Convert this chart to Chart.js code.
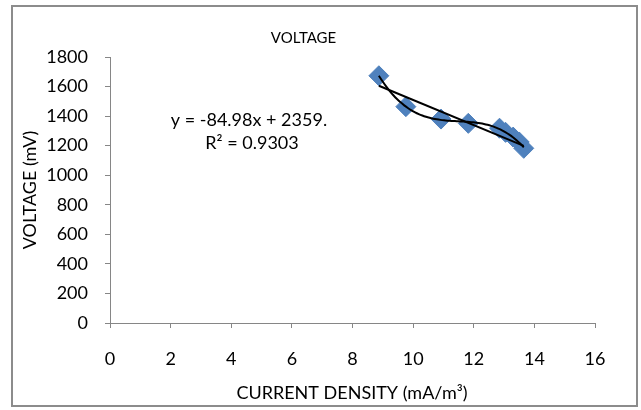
<!DOCTYPE html>
<html>
<head>
<meta charset="utf-8">
<script src="https://cdn.jsdelivr.net/npm/chart.js@4.4.1/dist/chart.umd.min.js"></script>
<style>
    body { margin: 0; background: #fff; }
    #wrap { width: 641px; height: 410px; position: relative; }
</style>
</head>
<body>
<div id="wrap"><canvas id="voltageChart"></canvas></div>
<script>
// readings taken off the plot
const currentDensity = [8.87, 9.76, 10.92, 11.82, 12.85, 13.05, 13.3, 13.5, 13.65];
const voltage = [1673, 1464, 1380, 1351, 1318, 1290, 1258, 1225, 1182];

// trendline as printed on the chart
const trendSlope = -84.98;
const trendIntercept = 2359;
const trendLabel = 'y = -84.98x + 2359.';
const r2Label = 'R\u00b2 = 0.9303';

const xTicks = [0, 2, 4, 6, 8, 10, 12, 14, 16];
const yTicks = [0, 200, 400, 600, 800, 1000, 1200, 1400, 1600, 1800];

// cubic least-squares fit of the measured points (second trendline)
function polyFit(xs, ys, order) {
    const n = order + 1;
    const A = [];
    for (let i = 0; i < n; i++) {
        A.push(new Array(n + 1).fill(0));
        for (let j = 0; j < n; j++) {
            A[i][j] = xs.reduce((s, x) => s + Math.pow(x, i + j), 0);
        }
        A[i][n] = xs.reduce((s, x, k) => s + Math.pow(x, i) * ys[k], 0);
    }
    for (let c = 0; c < n; c++) {
        let p = c;
        for (let r = c + 1; r < n; r++) if (Math.abs(A[r][c]) > Math.abs(A[p][c])) p = r;
        [A[c], A[p]] = [A[p], A[c]];
        for (let r = 0; r < n; r++) {
            if (r === c) continue;
            const f = A[r][c] / A[c][c];
            for (let k = c; k <= n; k++) A[r][k] -= f * A[c][k];
        }
    }
    return A.map((row, i) => row[n] / row[i]);
}

const xMin = Math.min(...currentDensity);
const xMax = Math.max(...currentDensity);
const coef = polyFit(currentDensity, voltage, 3);
const polyLine = [];
for (let i = 0; i <= 40; i++) {
    const x = xMin + (xMax - xMin) * i / 40;
    polyLine.push({ x: x, y: coef.reduce((s, c, k) => s + c * Math.pow(x, k), 0) });
}
const linLine = [xMin, xMax].map(x => ({ x: x, y: trendSlope * x + trendIntercept }));

const axisGrey = '#868686';
const fontFamily = 'Lato, "Open Sans", sans-serif';

const extras = {
    id: 'extras',
    beforeDraw(chart) {
        const ctx = chart.ctx;
        ctx.save();
        ctx.fillStyle = '#fff';
        ctx.fillRect(0, 0, chart.width, chart.height);
        ctx.strokeStyle = '#8c8c8c';
        ctx.lineWidth = 2;
        ctx.strokeRect(12, 6, 625, 400);
        ctx.restore();
    },
    afterDraw(chart) {
        const ctx = chart.ctx;
        ctx.save();
        ctx.fillStyle = '#000';
        ctx.font = '18px ' + fontFamily;
        ctx.textAlign = 'center';
        ctx.textBaseline = 'middle';
        ctx.fillText(trendLabel, 249, 120);
        ctx.fillText(r2Label, 252, 143);
        ctx.fillText('CURRENT DENSITY (mA/m\u00b3)', 352, 393);
        ctx.restore();
    }
};

new Chart(document.getElementById('voltageChart'), {
    type: 'scatter',
    data: {
        datasets: [
            {
                data: currentDensity.map((x, i) => ({ x: x, y: voltage[i] })),
                pointStyle: 'rectRot',
                pointRadius: 10,
                pointBackgroundColor: '#4F81BD',
                pointBorderColor: '#4F81BD',
                showLine: false,
                order: 2
            },
            {
                data: linLine,
                showLine: true,
                borderColor: '#000',
                borderWidth: 2,
                pointRadius: 0,
                order: 1
            },
            {
                data: polyLine,
                showLine: true,
                borderColor: '#000',
                borderWidth: 2,
                pointRadius: 0,
                tension: 0.3,
                order: 1
            }
        ]
    },
    options: {
        responsive: true,
        maintainAspectRatio: false,
        animation: false,
        layout: { padding: { left: 12, right: 46, top: 0, bottom: 5 } },
        plugins: {
            legend: { display: false },
            tooltip: { enabled: false },
            title: {
                display: true,
                text: 'VOLTAGE',
                color: '#000',
                font: { family: fontFamily, size: 15, weight: 'normal' },
                padding: { top: 29, bottom: 10 }
            }
        },
        scales: {
            x: {
                type: 'linear',
                min: 0,
                max: 16,
                afterBuildTicks: s => { s.ticks = xTicks.map(v => ({ value: v })); },
                afterFit: s => { s.height = 82; },
                border: { color: axisGrey, width: 1 },
                grid: { drawOnChartArea: false, color: axisGrey, tickLength: 5 },
                ticks: {
                    color: '#000',
                    padding: 20,
                    font: { family: fontFamily, size: 18 },
                    callback: v => String(v)
                }
            },
            y: {
                type: 'linear',
                min: 0,
                max: 1800,
                afterBuildTicks: s => { s.ticks = yTicks.map(v => ({ value: v })); },
                afterFit: s => { s.width = 98; },
                border: { color: axisGrey, width: 1 },
                grid: { drawOnChartArea: false, color: axisGrey, tickLength: 5 },
                ticks: {
                    color: '#000',
                    padding: 17,
                    font: { family: fontFamily, size: 18 },
                    callback: v => String(v)
                },
                title: {
                    display: true,
                    text: 'VOLTAGE (mV)',
                    color: '#000',
                    font: { family: fontFamily, size: 18 },
                    padding: { top: 7, bottom: 0 }
                }
            }
        }
    },
    plugins: [extras]
});
</script>
</body>
</html>
